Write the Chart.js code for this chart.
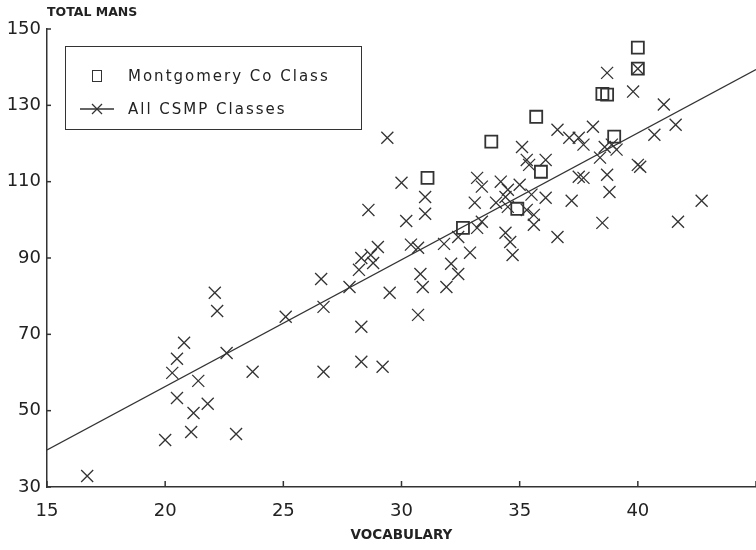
<!DOCTYPE html>
<html>
<head>
<meta charset="utf-8">
<script src="https://cdn.jsdelivr.net/npm/chart.js@4/dist/chart.umd.min.js"></script>
<style>
  html, body { margin: 0; padding: 0; background: #fff; }
  #wrap { position: relative; width: 756px; height: 550px; }
  #legend {
    position: absolute; left: 65px; top: 46px; width: 295px; height: 82px;
    border: 1.5px solid #333; font-family: "DejaVu Sans", sans-serif;
    font-size: 15px; letter-spacing: 2px; color: #222;
  }
  #legend .txt { position: absolute; left: 62px; line-height: 18px; }
  #legend .sq { position: absolute; left: 26px; top: 23px; width: 8px; height: 10px; border: 1.6px solid #333; }
</style>
</head>
<body>
<div id="wrap">
  <canvas id="chart-vocab-mans" width="756" height="550"></canvas>
  <div id="legend">
    <div class="sq"></div>
    <div class="txt" style="top:20px">Montgomery Co Class</div>
    <svg style="position:absolute;left:14px;top:54px" width="34" height="16">
      <line x1="0" y1="8" x2="34" y2="8" stroke="#333" stroke-width="1.3"/>
      <line x1="12" y1="3" x2="22" y2="13" stroke="#333" stroke-width="1.3"/>
      <line x1="12" y1="13" x2="22" y2="3" stroke="#333" stroke-width="1.3"/>
    </svg>
    <div class="txt" style="top:53px">All CSMP Classes</div>
  </div>
</div>
<script>
// Montgomery Co class (squares)
var mcX = [31.1, 33.8, 35.7, 35.9, 34.9, 32.6, 39.0, 38.5, 38.7, 40.0, 40.0];
var mcY = [111.0, 120.5, 127.0, 112.6, 102.9, 97.9, 121.8, 133.0, 132.8, 145.1, 139.6];

// all CSMP classes (crosses)
var csmpX = [16.7, 20.0, 20.3, 20.5, 20.8, 20.5, 21.2, 21.1, 21.4, 21.8,
  22.1, 22.2, 22.6, 23.0, 23.7, 25.1, 26.6, 26.7, 26.7, 27.8,
  28.3, 28.3, 29.2, 28.2, 28.3, 28.7, 29.0, 28.8, 28.6, 29.4,
  30.0, 29.5, 30.2, 30.4, 30.7, 30.7, 30.8, 30.9, 31.0, 31.0,
  31.9, 31.8, 32.4, 32.1, 32.4, 32.9, 33.2, 33.4, 33.1, 33.2,
  33.4, 34.0, 34.2, 34.4, 34.5, 34.4, 34.6, 34.7, 34.5, 35.0,
  35.1, 35.3, 35.4, 35.3, 35.5, 35.6, 35.6, 36.1, 36.1, 36.6,
  36.6, 37.1, 37.5, 37.7, 37.2, 37.5, 37.7, 38.1, 38.4, 38.6,
  38.9, 39.1, 38.7, 38.8, 38.5, 38.7, 39.8, 40.0, 40.1, 40.0,
  40.7, 41.1, 41.6, 41.7, 42.7];
var csmpY = [32.9, 42.3, 59.9, 63.6, 67.8, 53.3, 49.4, 44.4, 57.8, 51.8,
  80.9, 76.1, 65.1, 43.9, 60.2, 74.6, 84.5, 77.2, 60.2, 82.4,
  72.0, 62.8, 61.5, 86.9, 90.0, 90.8, 92.9, 88.7, 102.6, 121.5,
  109.7, 80.9, 99.7, 93.5, 92.7, 75.1, 85.8, 82.4, 106.0, 101.6,
  82.4, 93.7, 85.8, 88.5, 95.5, 91.4, 97.9, 99.5, 104.5, 111.0,
  108.7, 104.5, 110.0, 106.0, 107.9, 96.6, 94.2, 90.8, 103.4, 109.2,
  119.1, 115.7, 114.4, 102.6, 106.6, 101.3, 98.7, 115.7, 105.8, 123.6,
  95.5, 121.5, 121.5, 119.7, 105.0, 111.3, 111.0, 124.4, 116.3, 119.1,
  119.7, 118.4, 111.8, 107.3, 99.2, 138.5, 133.6, 114.4, 113.9, 139.6,
  122.3, 130.2, 124.9, 99.5, 105.0];

// fitted line end points
var fitX = [15, 45];
var fitY = [39.7, 139.4];

var xTicks = [15, 20, 25, 30, 35, 40];

function pts(xs, ys) {
  return xs.map(function (v, i) { return { x: v, y: ys[i] }; });
}

// short tick marks pointing into the plot
var innerTicks = {
  id: "innerTicks",
  afterDraw: function (chart) {
    var ctx = chart.ctx, x = chart.scales.x, y = chart.scales.y;
    ctx.save();
    ctx.strokeStyle = "#333";
    ctx.lineWidth = 1.5;
    x.ticks.forEach(function (t) {
      var px = x.getPixelForValue(t.value);
      ctx.beginPath(); ctx.moveTo(px, x.top); ctx.lineTo(px, x.top - 6); ctx.stroke();
    });
    y.ticks.forEach(function (t) {
      var py = y.getPixelForValue(t.value);
      ctx.beginPath(); ctx.moveTo(y.right, py); ctx.lineTo(y.right + 4, py); ctx.stroke();
    });
    ctx.restore();
  },
};

var ctx = document.getElementById("chart-vocab-mans").getContext("2d");

new Chart(ctx, {
  type: "scatter",
  data: {
    datasets: [
      {
        label: "fit",
        data: pts(fitX, fitY),
        showLine: true,
        borderColor: "#333",
        borderWidth: 1.3,
        pointRadius: 0,
      },
      {
        label: "All CSMP Classes",
        data: pts(csmpX, csmpY),
        pointStyle: "crossRot",
        pointRadius: 8.5,
        borderColor: "#333",
        borderWidth: 1.3,
      },
      {
        label: "Montgomery Co Class",
        data: pts(mcX, mcY),
        pointStyle: "rect",
        pointRadius: 8.5,
        borderColor: "#333",
        backgroundColor: "rgba(0,0,0,0)",
        borderWidth: 1.8,
      },
    ],
  },
  options: {
    responsive: false,
    animation: false,
    events: [],
    layout: { autoPadding: false },
    plugins: {
      legend: { display: false },
      tooltip: { enabled: false },
      title: {
        display: true,
        text: "TOTAL MANS",
        align: "start",
        fullSize: false,
        color: "#222",
        font: { family: "DejaVu Sans", size: 12.5, weight: "bold" },
        padding: { top: 5, bottom: 9 },
      },
    },
    scales: {
      x: {
        type: "linear",
        min: 15,
        max: 45,
        afterFit: function (scale) {
          scale.height = 63;
          scale.paddingLeft = 0;
          scale.paddingRight = 0;
        },
        grid: { display: false, drawTicks: false },
        border: { color: "#333", width: 1.5 },
        ticks: {
          stepSize: 5,
          padding: 14,
          color: "#222",
          font: { family: "DejaVu Sans", size: 18 },
          callback: function (value) {
            return xTicks.indexOf(value) >= 0 ? value : "";
          },
        },
        title: {
          display: true,
          text: "VOCABULARY",
          color: "#222",
          font: { family: "DejaVu Sans", size: 13.5, weight: "bold" },
          padding: { top: 0, bottom: 6 },
        },
      },
      y: {
        min: 30,
        max: 150,
        afterFit: function (scale) { scale.width = 47; },
        grid: { display: false, drawTicks: false },
        border: { color: "#333", width: 1.5 },
        ticks: {
          stepSize: 20,
          padding: 6,
          color: "#222",
          font: { family: "DejaVu Sans", size: 18 },
        },
      },
    },
  },
  plugins: [innerTicks],
});
</script>
</body>
</html>
